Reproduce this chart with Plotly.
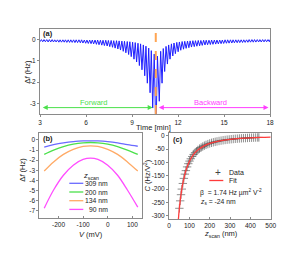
import plotly.graph_objects as go

W, H = 299, 257

# ---------------- Panel (a): time trace ----------------
fwd_dip_t = [3.0, 3.18, 3.35, 3.53, 3.7, 3.88, 4.05, 4.23, 4.4, 4.58, 4.75, 4.93, 5.1, 5.28, 5.45,
             5.63, 5.8, 5.98, 6.15, 6.33, 6.5, 6.68, 6.85, 7.03, 7.2, 7.38, 7.55, 7.73, 7.9, 8.08,
             8.25, 8.43, 8.6, 8.78, 8.95, 9.13, 9.3, 9.48, 9.65, 9.83, 10.0, 10.18, 10.35]
fwd_dip_df = [-0.10, -0.10, -0.10, -0.11, -0.11, -0.11, -0.11, -0.12, -0.12, -0.12, -0.13, -0.13,
              -0.13, -0.14, -0.14, -0.15, -0.16, -0.17, -0.18, -0.19, -0.20, -0.22, -0.24, -0.26,
              -0.28, -0.30, -0.33, -0.36, -0.40, -0.44, -0.49, -0.55, -0.62, -0.70, -0.80, -0.92,
              -1.05, -1.22, -1.42, -1.70, -2.05, -2.50, -3.22]
fwd_peak_t = [3.09, 3.26, 3.44, 3.61, 3.79, 3.96, 4.14, 4.31, 4.49, 4.66, 4.84, 5.01, 5.19, 5.36,
              5.54, 5.71, 5.89, 6.06, 6.24, 6.41, 6.59, 6.76, 6.94, 7.11, 7.29, 7.46, 7.64, 7.81,
              7.99, 8.16, 8.34, 8.51, 8.69, 8.86, 9.04, 9.21, 9.39, 9.56, 9.74, 9.91, 10.09, 10.26,
              10.45]
fwd_peak_df = [0.0, 0.0, 0.0, 0.0, 0.0, -0.01, -0.01, -0.01, -0.01, -0.01, -0.01, -0.01, -0.01,
               -0.01, -0.01, -0.01, -0.02, -0.02, -0.02, -0.02, -0.02, -0.02, -0.03, -0.03, -0.03,
               -0.04, -0.04, -0.05, -0.05, -0.06, -0.07, -0.08, -0.09, -0.10, -0.12, -0.14, -0.17,
               -0.20, -0.25, -0.31, -0.40, -0.52, -0.68]
turn_t = [10.56]
turn_df = [-4.6]
bwd_dip_t = [10.78, 10.96, 11.13, 11.31, 11.48, 11.66, 11.83, 12.01, 12.18, 12.36, 12.53, 12.71,
             12.88, 13.06, 13.23, 13.41, 13.58, 13.76, 13.93, 14.11, 14.28, 14.46, 14.63, 14.81,
             14.98, 15.16, 15.33, 15.51, 15.68, 15.86, 16.03, 16.21, 16.38, 16.56, 16.73, 16.91,
             17.08, 17.26, 17.43, 17.61, 17.78, 17.96]
bwd_dip_df = [-2.90, -2.05, -1.50, -1.15, -0.92, -0.77, -0.66, -0.57, -0.50, -0.45, -0.41, -0.38,
              -0.35, -0.33, -0.31, -0.29, -0.27, -0.25, -0.24, -0.23, -0.22, -0.21, -0.20, -0.19,
              -0.18, -0.17, -0.165, -0.16, -0.15, -0.145, -0.14, -0.135, -0.13, -0.125, -0.12,
              -0.12, -0.115, -0.11, -0.11, -0.105, -0.10, -0.10]
bwd_peak_t = [10.66, 10.87, 11.04, 11.22, 11.39, 11.57, 11.74, 11.92, 12.09, 12.27, 12.44, 12.62,
              12.79, 12.97, 13.14, 13.32, 13.49, 13.67, 13.84, 14.02, 14.19, 14.37, 14.54, 14.72,
              14.89, 15.07, 15.24, 15.42, 15.59, 15.77, 15.94, 16.12, 16.29, 16.47, 16.64, 16.82,
              16.99, 17.17, 17.34, 17.52, 17.69, 17.87, 18.0]
bwd_peak_df = [-0.78, -0.55, -0.42, -0.32, -0.25, -0.20, -0.16, -0.13, -0.11, -0.09, -0.08, -0.07,
               -0.06, -0.05, -0.05, -0.04, -0.04, -0.03, -0.03, -0.03, -0.02, -0.02, -0.02, -0.02,
               -0.02, -0.01, -0.01, -0.01, -0.01, -0.01, -0.01, -0.01, -0.01, -0.01, 0.0, 0.0,
               0.0, 0.0, 0.0, 0.0, 0.0, 0.0, 0.0]
switch_time = 10.55
forward_span = [3.08, 10.35]
backward_span = [10.65, 17.9]
arrow_level = -3.2
a_xticks = [3, 6, 9, 12, 15, 18]
a_xlabels = ["3", "6", "9", "12", "15", "18"]
a_yticks = [0, -1, -2, -3]
a_ylabels = ["0", "-1", "-2", "-3"]

# ---------------- Panel (b): parabolas ----------------
bias_mV = [-258, -220, -180, -140, -100, -70, -40, 0, 40, 80, 122]
df_309 = [-0.70, -0.47, -0.29, -0.165, -0.095, -0.08, -0.095, -0.165, -0.29, -0.46, -0.62]
df_200 = [-1.42, -1.00, -0.65, -0.41, -0.28, -0.25, -0.28, -0.41, -0.65, -1.00, -1.43]
df_134 = [-3.07, -2.17, -1.43, -0.93, -0.64, -0.58, -0.64, -0.93, -1.43, -2.17, -3.08]
df_90 = [-6.75, -4.95, -3.49, -2.49, -1.93, -1.80, -1.93, -2.49, -3.49, -4.95, -6.65]
b_names = ["309 nm", "200 nm", "134 nm", "90 nm"]
b_colors = ["#6a6aff", "#4be04b", "#ffaa66", "#ff4dff"]
b_xticks = [-200, -100, 0, 100]
b_xlabels = ["-200", "-100", "0", "100"]
b_yticks = [0, -1, -2, -3, -4, -5, -6, -7]
b_ylabels = ["0", "-1", "-2", "-3", "-4", "-5", "-6", "-7"]

# ---------------- Panel (c): C vs z ----------------
z_data = [51, 55, 59, 63, 68, 73, 78, 83, 89, 95, 101, 107, 114, 121, 128, 135, 142, 150, 158,
          166, 174, 182, 191, 200, 209, 218, 227, 236, 246, 256, 266, 276, 286, 296, 306, 316,
          326, 336, 346, 356, 366, 376, 386, 396, 406, 416, 426, 436, 442]
c_data = [-272, -244, -221, -200, -179, -160, -144, -131, -117, -105, -95.3, -86.6, -77.9, -70.4,
          -64.0, -58.4, -53.5, -48.6, -44.4, -40.7, -37.4, -34.5, -31.7, -29.1, -26.9, -24.9,
          -23.2, -21.6, -20.0, -18.6, -17.3, -16.2, -15.1, -14.2, -13.3, -12.6, -11.8, -11.2,
          -10.6, -10.0, -9.5, -9.1, -8.6, -8.2, -7.8, -7.5, -7.1, -6.8, -6.7]
z_fit = [44, 48, 52, 58, 65, 75, 85, 100, 120, 140, 170, 200, 250, 300, 350, 400, 450, 500]
c_fit = [-333, -296, -265, -226, -191, -154, -126, -96.9, -71.4, -54.8, -39.0, -29.1, -19.4,
         -13.8, -10.4, -8.0, -6.4, -5.3]
c_xticks = [0, 100, 200, 300, 400, 500]
c_xlabels = ["0", "100", "200", "300", "400", "500"]
c_yticks = [0, -50, -100, -150, -200, -250, -300]
c_ylabels = ["0", "-50", "-100", "-150", "-200", "-250", "-300"]

FONT = "Liberation Sans, Arial, sans-serif"
TXT = "#222222"
FRAME = "#8a8a8a"


def px(x, y):
    return x / W, 1 - y / H


# merge the time trace
pts = sorted(zip(fwd_dip_t + fwd_peak_t + turn_t + bwd_dip_t + bwd_peak_t,
                 fwd_dip_df + fwd_peak_df + turn_df + bwd_dip_df + bwd_peak_df))
t_all = [p[0] for p in pts]
df_all = [p[1] for p in pts]

fig = go.Figure()
fig.add_trace(go.Scatter(x=t_all, y=df_all, mode="lines", line=dict(color="#1f1fff", width=1),
                         xaxis="x", yaxis="y", showlegend=False))
for vals, col in zip([df_309, df_200, df_134, df_90], b_colors):
    fig.add_trace(go.Scatter(x=bias_mV, y=vals, mode="lines",
                             line=dict(color=col, width=1.3, shape="spline"),
                             xaxis="x2", yaxis="y2", showlegend=False))
fig.add_trace(go.Scatter(x=z_data, y=c_data, mode="markers",
                         marker=dict(symbol="cross-thin", size=6, color="#666666",
                                     line=dict(color="rgba(70,70,70,0.6)", width=1)),
                         xaxis="x3", yaxis="y3", showlegend=False))
fig.add_trace(go.Scatter(x=z_fit, y=c_fit, mode="lines",
                         line=dict(color="#ff3b3b", width=1.3, shape="spline"),
                         xaxis="x3", yaxis="y3", showlegend=False))


def axis(domain, rng, tv, tt, anchor, ticks="outside"):
    return dict(domain=domain, range=rng, tickvals=tv, ticktext=tt, anchor=anchor,
                showline=True, linecolor=FRAME, linewidth=1, mirror=True,
                ticks=ticks, ticklen=2, tickcolor=FRAME, tickwidth=1,
                showgrid=False, zeroline=False, automargin=False,
                tickfont=dict(family=FONT, size=6.5, color=TXT))


fig.update_layout(
    width=W, height=H, margin=dict(l=0, r=0, t=0, b=0),
    paper_bgcolor="white", plot_bgcolor="white", showlegend=False,
    font=dict(family=FONT, color=TXT),
    xaxis=axis([40 / W, 270 / W], [3, 18], a_xticks, a_xlabels, "y"),
    yaxis=axis([1 - 114 / H, 1 - 29 / H], [-3.5, 0.5], a_yticks, a_ylabels, "x"),
    xaxis2=axis([39.3 / W, 141.7 / W], [-278, 138], b_xticks, b_xlabels, "y2", "inside"),
    yaxis2=axis([1 - 218.3 / H, 1 - 133.3 / H], [-7.75, 0.66], b_yticks, b_ylabels, "x2"),
    xaxis3=axis([169 / W, 270.7 / W], [0, 500], c_xticks, c_xlabels, "y3", "inside"),
    yaxis3=axis([1 - 219 / H, 1 - 132.7 / H], [-312, 11], c_yticks, c_ylabels, "x3"),
)

# dashed switching line
fig.add_shape(type="line", xref="x", yref="y domain", x0=switch_time, x1=switch_time, y0=0, y1=1,
              line=dict(color="#ffa552", width=2, dash="dash"))

ann = []


def text(x, y, s, size=7.5, color=TXT, xanchor="center", angle=0, bold=False):
    xp, yp = px(x, y)
    if bold:
        s = "<b>" + s + "</b>"
    ann.append(dict(x=xp, y=yp, xref="paper", yref="paper", text=s, showarrow=False,
                    xanchor=xanchor, yanchor="middle", textangle=angle,
                    font=dict(family=FONT, size=size, color=color)))


# arrows (forward/backward)
for span, col in [(forward_span, "#4be04b"), (backward_span, "#ff3dff")]:
    ann.append(dict(x=span[1], y=arrow_level, ax=span[0], ay=arrow_level, xref="x", yref="y",
                    axref="x", ayref="y", text="", showarrow=True, arrowhead=2,
                    arrowside="end+start", arrowsize=1, arrowwidth=1, arrowcolor=col))
ann.append(dict(x=6.54, y=-2.96, xref="x", yref="y", text="Forward", showarrow=False,
                font=dict(family=FONT, size=7.5, color="#4be04b")))
ann.append(dict(x=14.15, y=-2.96, xref="x", yref="y", text="Backward", showarrow=False,
                font=dict(family=FONT, size=7.5, color="#ff3dff")))

# panel labels
text(47.5, 34, "(a)", size=7.5, bold=True)
text(48, 138, "(b)", size=7.5, bold=True)
text(177.5, 139.7, "(c)", size=7.5, bold=True)

# axis titles
text(153, 127.5, "Time [min]", size=7.5)
text(27.3, 71.5, "Δ<i>f</i> (Hz)", size=7.5, angle=-90)
text(21.7, 170, "Δ<i>f</i> (Hz)", size=7.5, angle=-90)
text(91, 234, "<i>V</i> (mV)", size=7.5)
text(146.5, 176, "<i>C</i> (Hz/V<sup>2</sup>)", size=7.5, angle=-90)
text(221, 234, "<i>z</i><sub>scan</sub> (nm)", size=7.5)

# legend (b)
text(91, 176, "<i>z</i><sub>scan</sub>", size=7.5)
for i, (name, col) in enumerate(zip(b_names, b_colors)):
    yy = 183.3 + i * 8.7
    x0, y0 = px(69.3, yy)
    x1, _ = px(83.3, yy)
    fig.add_shape(type="line", xref="paper", yref="paper", x0=x0, x1=x1, y0=y0, y1=y0,
                  line=dict(color=col, width=1.3))
    text(109.5, yy, name, size=6.8, xanchor="right")

# legend (c)
text(218.3, 172.7, "+", size=10, color="#444444")
text(226.7, 172.7, "Data", size=7, xanchor="left")
x0, y0 = px(209.3, 180.5)
x1, _ = px(223.3, 180.5)
fig.add_shape(type="line", xref="paper", yref="paper", x0=x0, x1=x1, y0=y0, y1=y0,
              line=dict(color="#ff3b3b", width=1.3))
text(226.7, 180.5, "Fit", size=7, xanchor="left")
text(198.3, 192.7, "β  = 1.74 Hz µm<sup>2</sup> V<sup>-2</sup>", size=6.8, xanchor="left")
text(198.3, 201.7, "<i>z</i><sub>s</sub> = -24 nm", size=6.8, xanchor="left")

fig.update_layout(annotations=ann)
fig.write_html("out.html", config={"displayModeBar": False},
               post_script="document.body.style.margin='0';document.body.style.overflow='hidden';")
